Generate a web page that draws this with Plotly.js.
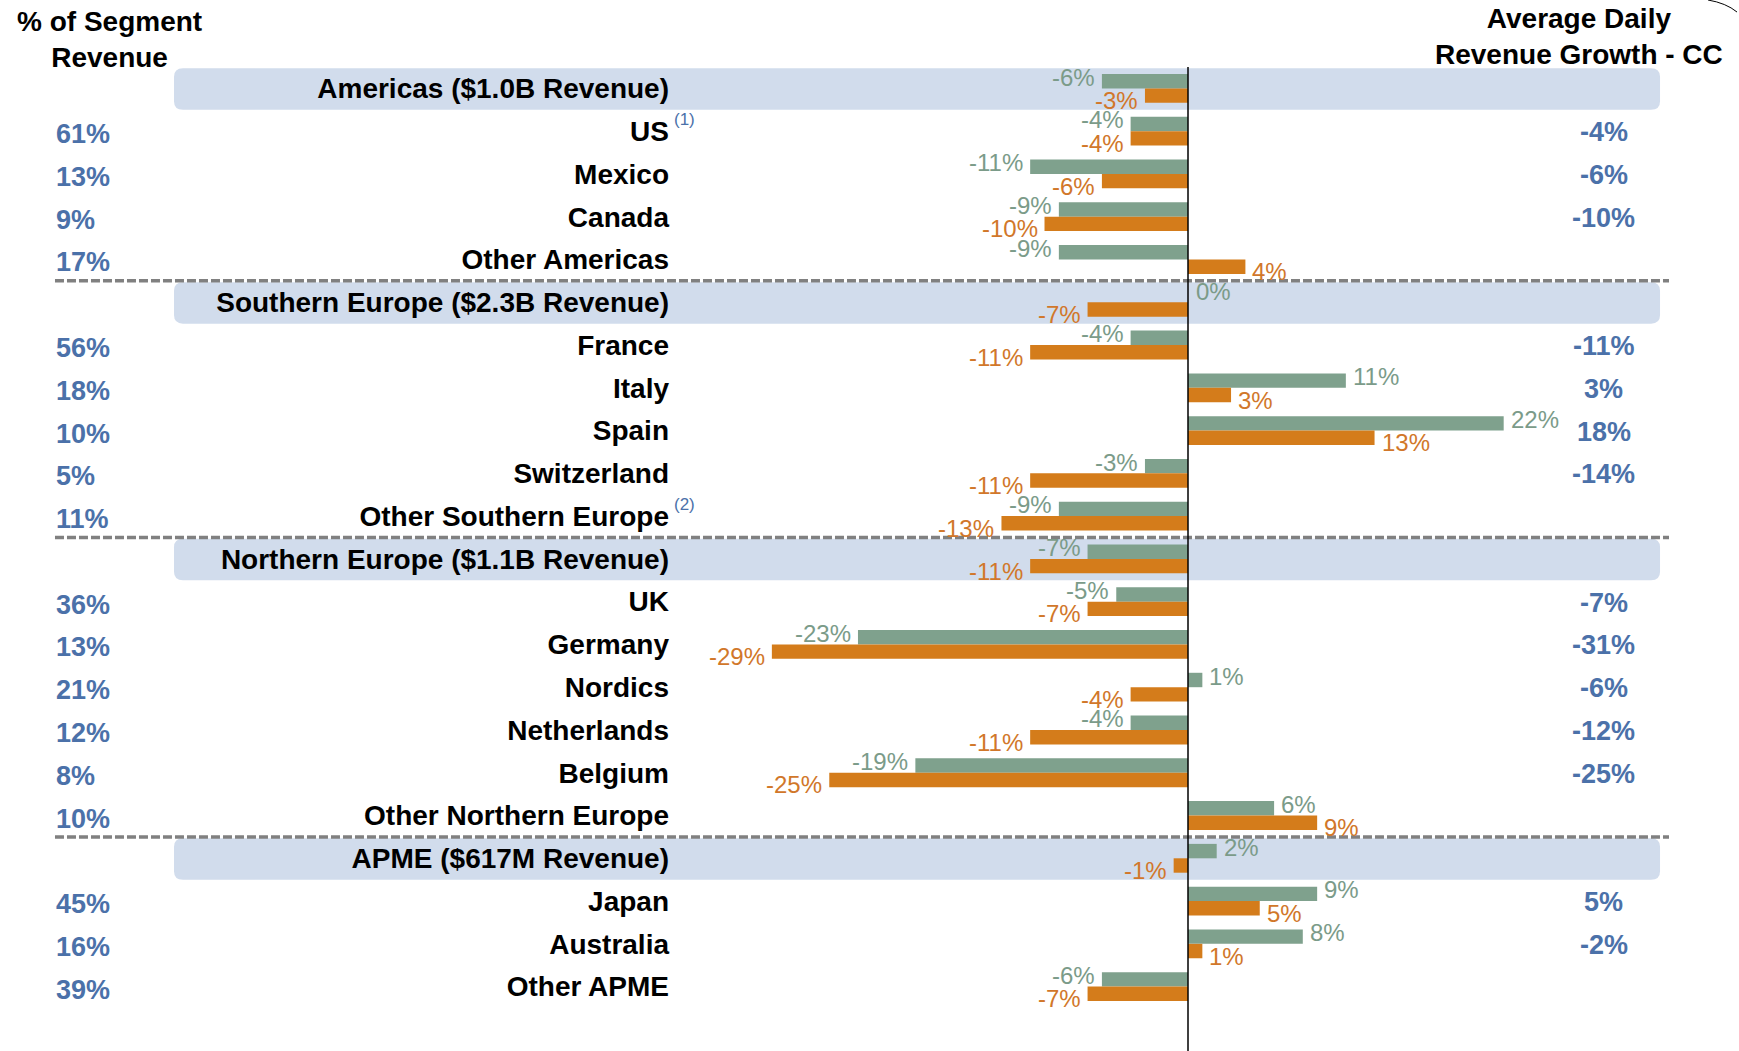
<!DOCTYPE html>
<html>
<head>
<meta charset="utf-8">
<script src="https://cdn.plot.ly/plotly-3.0.1.min.js"></script>
<style>
  html, body { margin: 0; padding: 0; background: #ffffff; }
  #chart { width: 1739px; height: 1051px; }
</style>
</head>
<body>
<div id="chart"></div>
<script>
// ---------------- DATA ----------------
const categories = [
  'Americas ($1.0B Revenue)', 'US', 'Mexico', 'Canada', 'Other Americas',
  'Southern Europe ($2.3B Revenue)', 'France', 'Italy', 'Spain', 'Switzerland', 'Other Southern Europe',
  'Northern Europe ($1.1B Revenue)', 'UK', 'Germany', 'Nordics', 'Netherlands', 'Belgium', 'Other Northern Europe',
  'APME ($617M Revenue)', 'Japan', 'Australia', 'Other APME'
];
const segmentHeaders = [
  'Americas ($1.0B Revenue)', 'Southern Europe ($2.3B Revenue)',
  'Northern Europe ($1.1B Revenue)', 'APME ($617M Revenue)'
];
const footnoteRows = ['US', 'Other Southern Europe'];
const footnoteMarks = ['(1)', '(2)'];

const greenValues  = [-6, -4, -11, -9, -9,   0, -4, 11, 22, -3, -9,   -7, -5, -23, 1, -4, -19, 6,   2, 9, 8, -6];
const orangeValues = [-3, -4, -6, -10, 4,   -7, -11, 3, 13, -11, -13, -11, -7, -29, -4, -11, -25, 9,  -1, 5, 1, -7];

const segmentShare = [null, 61, 13, 9, 17,  null, 56, 18, 10, 5, 11,  null, 36, 13, 21, 12, 8, 10,  null, 45, 16, 39];
const adrGrowthCC  = [null, -4, -6, -10, null,  null, -11, 3, 18, -14, null,  null, -7, -31, -6, -12, -25, null,  null, 5, -2, null];

const leftHeader = '% of Segment<br>Revenue';
const rightHeader = 'Average Daily<br>Revenue Growth - CC';

// ---------------- STYLE ----------------
const FONT = 'Liberation Sans, Arial, Helvetica, sans-serif';
const GREEN = '#7fa18d';
const ORANGE = '#d47c1b';
const GREEN_TXT = '#7b9b89';
const ORANGE_TXT = '#d1772a';
const BLUE = '#4b71a9';
const BAND = '#d1dcec';
const BAR_GAP = 0.326;

const rows = categories.map((_, i) => i);
const halfBar = (1 - BAR_GAP) / 4;

const traces = [
  {
    type: 'bar', orientation: 'h', name: 'Green series',
    y: rows, x: greenValues,
    marker: { color: GREEN },
    hoverinfo: 'skip', showlegend: false
  },
  {
    type: 'bar', orientation: 'h', name: 'Orange series',
    y: rows, x: orangeValues,
    marker: { color: ORANGE },
    hoverinfo: 'skip', showlegend: false
  }
];

const shapes = [];
const annotations = [];

// segment bands and dashed separators
categories.forEach((c, i) => {
  if (segmentHeaders.includes(c)) {
    const x0 = -0.501, x1 = 0.991;
    const y0 = i - 0.47, y1 = i + 0.5;
    const rx = 0.009, ry = 0.2;
    shapes.push({
      type: 'path', xref: 'paper', yref: 'y', layer: 'below',
      path: `M ${x0 + rx},${y0} L ${x1 - rx},${y0} Q ${x1},${y0} ${x1},${y0 + ry} L ${x1},${y1 - ry} Q ${x1},${y1} ${x1 - rx},${y1} L ${x0 + rx},${y1} Q ${x0},${y1} ${x0},${y1 - ry} L ${x0},${y0 + ry} Q ${x0},${y0} ${x0 + rx},${y0} Z`,
      fillcolor: BAND, line: { width: 0 }
    });
    if (i > 0) {
      shapes.push({
        type: 'line', xref: 'paper', yref: 'y', layer: 'above',
        x0: -0.6205, x1: 1.0, y0: i - 0.5, y1: i - 0.5,
        line: { color: '#808080', width: 3.5, dash: '9px,3px' }
      });
    }
  }
});

// zero line
shapes.push({
  type: 'line', xref: 'x', yref: 'paper', layer: 'above',
  x0: 0, x1: 0, y0: -0.046, y1: 1.0,
  line: { color: '#000000', width: 1.5 }
});

// decorative arc in top-right corner
shapes.push({
  type: 'path', xref: 'paper', yref: 'paper', layer: 'above',
  path: 'M 1.0392,1.0712 Q 1.0572,1.0680 1.0683,1.0584',
  line: { color: '#000000', width: 1 }
});

// bar value labels
function barLabel(v, i, isGreen) {
  const pos = v >= 0;
  annotations.push({
    xref: 'x', yref: 'y',
    x: v, y: i + (isGreen ? -halfBar : halfBar),
    text: v + '%',
    showarrow: false,
    xanchor: pos ? 'left' : 'right',
    yanchor: 'middle',
    xshift: pos ? (v === 0 ? 6 : 5) : -5,
    yshift: isGreen ? 4 : -5,
    font: { family: FONT, size: 24, color: isGreen ? GREEN_TXT : ORANGE_TXT }
  });
}
greenValues.forEach((v, i) => barLabel(v, i, true));
orangeValues.forEach((v, i) => barLabel(v, i, false));

// left % of segment revenue
segmentShare.forEach((v, i) => {
  if (v === null) return;
  annotations.push({
    xref: 'paper', yref: 'y', x: -0.6215, y: i, yshift: -3,
    text: v + '%', showarrow: false, xanchor: 'left', yanchor: 'middle',
    font: { family: FONT, size: 27, color: BLUE, weight: 700 }
  });
});

// right ADR growth CC
adrGrowthCC.forEach((v, i) => {
  if (v === null) return;
  annotations.push({
    xref: 'paper', yref: 'y', x: 0.9347, y: i, yshift: -1,
    text: v + '%', showarrow: false, xanchor: 'center', yanchor: 'middle',
    font: { family: FONT, size: 27, color: BLUE, weight: 700 }
  });
});

// footnote marks
footnoteRows.forEach((name, k) => {
  const i = categories.indexOf(name);
  annotations.push({
    xref: 'paper', yref: 'y', x: 0.0, y: i, xshift: -1, yshift: 12,
    text: footnoteMarks[k], showarrow: false, xanchor: 'left', yanchor: 'middle',
    font: { family: FONT, size: 17, color: BLUE }
  });
});

// column headers
annotations.push({
  xref: 'paper', yref: 'paper', x: -0.566, y: 1.029,
  text: leftHeader, showarrow: false, xanchor: 'center', yanchor: 'middle', align: 'center',
  font: { family: FONT, size: 28, color: '#000000', weight: 700 }
});
annotations.push({
  xref: 'paper', yref: 'paper', x: 0.9096, y: 1.032,
  text: rightHeader, showarrow: false, xanchor: 'center', yanchor: 'middle', align: 'center',
  font: { family: FONT, size: 28, color: '#000000', weight: 700 }
});

const layout = {
  width: 1739, height: 1051,
  paper_bgcolor: '#ffffff', plot_bgcolor: 'rgba(0,0,0,0)',
  margin: { l: 673, r: 70, t: 67, b: 43, pad: 0 },
  barmode: 'group', bargap: BAR_GAP, bargroupgap: 0,
  showlegend: false,
  xaxis: {
    range: [-35.89, 33.52], showgrid: false, zeroline: false,
    showticklabels: false, showline: false, fixedrange: true
  },
  yaxis: {
    range: [categories.length - 0.5, -0.5],
    tickmode: 'array', tickvals: rows, ticktext: categories,
    showgrid: false, zeroline: false, showline: false, ticks: '',
    ticklabelstandoff: 3,
    tickfont: { family: FONT, size: 28, color: '#000000', weight: 700 },
    fixedrange: true
  },
  shapes: shapes,
  annotations: annotations,
  font: { family: FONT }
};

Plotly.newPlot('chart', traces, layout, { displayModeBar: false, staticPlot: true });
</script>
</body>
</html>
